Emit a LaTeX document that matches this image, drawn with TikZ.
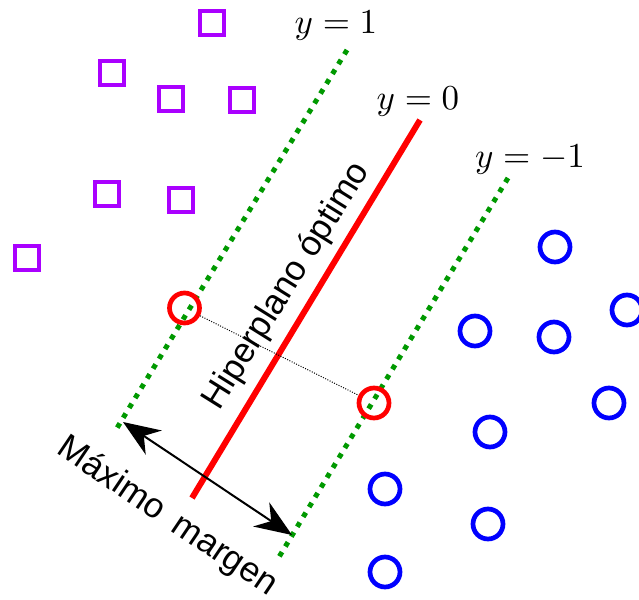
\documentclass[tikz,border=0pt]{standalone}
\usepackage{fontspec}
\newfontfamily\hvfont{Liberation Sans}
\usetikzlibrary{arrows.meta}
\definecolor{sqpurple}{RGB}{170,0,255}
\definecolor{ptblue}{RGB}{0,0,255}
\definecolor{svred}{RGB}{255,0,0}
\definecolor{mgreen}{RGB}{0,153,0}
\tikzset{
  sq/.style={draw=sqpurple, line width=4.3pt, minimum size=24pt, inner sep=0pt, rectangle},
  bc/.style={draw=ptblue, line width=4.7pt, minimum size=30pt, inner sep=0pt, circle},
  sv/.style={draw=svred, line width=4.7pt, minimum size=30pt, inner sep=0pt, circle},
  margin/.style={draw=mgreen, line width=5pt, dash pattern=on 5pt off 6.5pt},
  hyper/.style={draw=svred, line width=6pt},
  mathlbl/.style={font=\fontsize{10}{12}\selectfont, scale=3.5, transform shape, inner sep=0pt, anchor=base},
  sanslbl/.style={font=\hvfont\fontsize{35}{42}\selectfont, inner sep=0pt},
  gap/.style={draw=black, line width=1pt, dash pattern=on 1pt off 1.5pt},
  marrow/.style={draw=black, line width=2pt, {Stealth[length=37pt,width=29pt,inset=12pt]}-{Stealth[length=37pt,width=29pt,inset=12pt]}}
}
\begin{document}
\begin{tikzpicture}[x=1pt,y=-1pt]
\useasboundingbox (0,0) rectangle (639,599);
% squares
\node[sq] (s1) at (212,23) {};
\node[sq] (s2) at (112,73) {};
\node[sq] (s3) at (171,99) {};
\node[sq] (s4) at (242,100) {};
\node[sq] (s5) at (107,194) {};
\node[sq] (s6) at (181,200) {};
\node[sq] (s7) at (27,258) {};
% blue circles
\node[bc] (b1) at (555,247) {};
\node[bc] (b2) at (627,310) {};
\node[bc] (b3) at (475,331) {};
\node[bc] (b4) at (554,337) {};
\node[bc] (b5) at (609,403) {};
\node[bc] (b6) at (490,432) {};
\node[bc] (b7) at (385,489) {};
\node[bc] (b8) at (488,524) {};
\node[bc] (b9) at (385,572) {};
% lines
\coordinate (g1a) at (347,50);
\coordinate (g1b) at (117,428);
\coordinate (g2a) at (508,178);
\coordinate (g2b) at (279,557);
\coordinate (h0a) at (420,120);
\coordinate (h0b) at (192,498);
\draw[margin] (g1a) -- (g1b);
\draw[margin] (g2a) -- (g2b);
\draw[hyper] (h0a) -- (h0b);
% support vectors
\node[sv] (c1) at (184.5,308) {};
\node[sv] (c2) at (374,403) {};
\draw[gap] (c1) -- (c2);
% arrow
\coordinate (m1) at (123,422);
\coordinate (m2) at (292,535);
\draw[marrow] (m1) -- (m2);
% labels
\node[mathlbl] (l1) at (336,34) {$y=1$};
\node[mathlbl] (l0) at (418,110) {$y=0$};
\node[mathlbl] (lm1) at (530,167) {$y=-1$};
\node[sanslbl, rotate=58] (hl) at (287,286) {Hiperplano óptimo};
\node[sanslbl, rotate=-34] (ml) at (167,517) {Máximo\hspace{0.45em}margen};
\end{tikzpicture}
\end{document}
